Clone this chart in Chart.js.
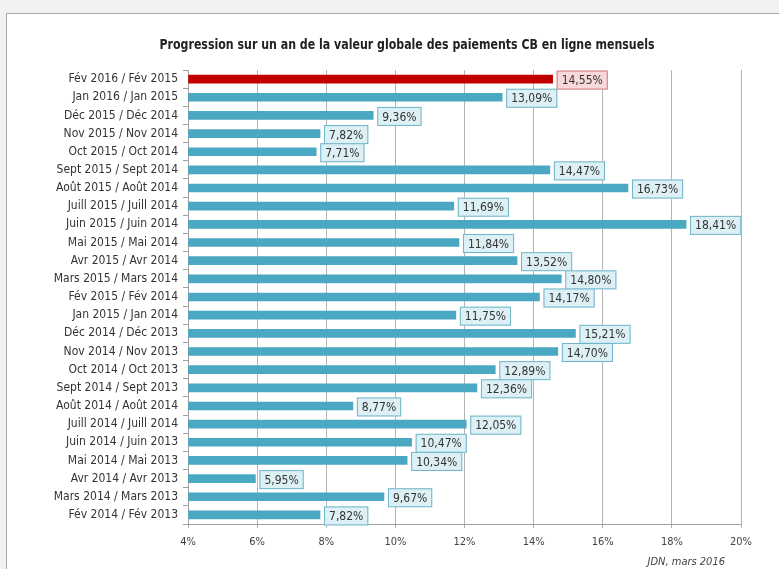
<!DOCTYPE html>
<html>
<head>
<meta charset="utf-8">
<script src="https://cdn.jsdelivr.net/npm/chart.js@4.4.1/dist/chart.umd.min.js"></script>
<style>
  html, body { margin: 0; padding: 0; background: #f2f2f2; }
  #wrap { position: relative; width: 779px; height: 569px; overflow: hidden; }
  #panel { position: absolute; left: 6px; top: 13px; width: 800px; height: 600px; background: #fff; border: 1px solid #a8a8a8; }
  #chart { position: absolute; left: 0; top: 0; }
</style>
</head>
<body>
<div id="wrap">
  <div id="panel"></div>
  <canvas id="chart" width="779" height="569"></canvas>
</div>
<script>
const periods = [
  'Fév 2016 / Fév 2015', 'Jan 2016 / Jan 2015', 'Déc 2015 / Déc 2014', 'Nov 2015 / Nov 2014',
  'Oct 2015 / Oct 2014', 'Sept 2015 / Sept 2014', 'Août 2015 / Août 2014', 'Juill 2015 / Juill 2014',
  'Juin 2015 / Juin 2014', 'Mai 2015 / Mai 2014', 'Avr 2015 / Avr 2014', 'Mars 2015 / Mars 2014',
  'Fév 2015 / Fév 2014', 'Jan 2015 / Jan 2014', 'Déc 2014 / Déc 2013', 'Nov 2014 / Nov 2013',
  'Oct 2014 / Oct 2013', 'Sept 2014 / Sept 2013', 'Août 2014 / Août 2014', 'Juill 2014 / Juill 2014',
  'Juin 2014 / Juin 2013', 'Mai 2014 / Mai 2013', 'Avr 2014 / Avr 2013', 'Mars 2014 / Mars 2013',
  'Fév 2014 / Fév 2013'
];
const growth = [
  14.55, 13.09, 9.36, 7.82, 7.71, 14.47, 16.73, 11.69, 18.41, 11.84, 13.52, 14.80,
  14.17, 11.75, 15.21, 14.70, 12.89, 12.36, 8.77, 12.05, 10.47, 10.34, 5.95, 9.67, 7.82
];
const xTicks = [4, 6, 8, 10, 12, 14, 16, 18, 20];
const highlighted = [0];
const titleText = 'Progression sur un an de la valeur globale des paiements CB en ligne mensuels';
const sourceText = 'JDN, mars 2016';

const FONT = '"Liberation Sans Narrow", "DejaVu Sans Condensed", "Liberation Sans", sans-serif';
const BLUE = '#4aa8c2';
const RED = '#c00000';

const barColors = growth.map((v, i) => highlighted.includes(i) ? RED : BLUE);

// boxed value labels at the end of each bar
const valueBoxes = {
  id: 'valueBoxes',
  afterDatasetsDraw(chart) {
    const ctx = chart.ctx;
    const meta = chart.getDatasetMeta(0);
    ctx.save();
    ctx.font = '12px ' + FONT;
    ctx.textBaseline = 'middle';
    meta.data.forEach((bar, i) => {
      const txt = growth[i].toFixed(2).replace('.', ',') + '%';
      const w = ctx.measureText(txt).width + 10;
      const h = 19;
      const x = bar.x + 4;
      const y = bar.y - h / 2 + 1;
      const hl = highlighted.includes(i);
      ctx.fillStyle = hl ? '#f8d8d8' : '#ddf0f6';
      ctx.strokeStyle = hl ? '#d27a7a' : '#6fb4c8';
      ctx.lineWidth = 1;
      ctx.fillRect(x, y, w, h);
      ctx.strokeRect(x + 0.5, y + 0.5, w - 1, h - 1);
      ctx.fillStyle = '#333';
      ctx.textAlign = 'left';
      ctx.fillText(txt, x + 5, y + h / 2 + 1);
    });
    ctx.restore();
  }
};

// title (narrow, like the original) and source note
const captions = {
  id: 'captions',
  afterDraw(chart) {
    const ctx = chart.ctx;
    ctx.save();
    ctx.font = 'bold 14px ' + FONT;
    ctx.fillStyle = '#222';
    ctx.textAlign = 'center';
    ctx.textBaseline = 'middle';
    const tw = ctx.measureText(titleText).width;
    const k = Math.min(1, 495 / tw);
    ctx.translate(407, 45);
    ctx.scale(k, 1);
    ctx.fillText(titleText, 0, 0);
    ctx.restore();

    ctx.save();
    ctx.font = 'italic 11px ' + FONT;
    ctx.fillStyle = '#444';
    ctx.textAlign = 'right';
    ctx.textBaseline = 'middle';
    ctx.fillText(sourceText, 725, 562);
    ctx.restore();
  }
};

new Chart(document.getElementById('chart'), {
  type: 'bar',
  data: {
    labels: periods,
    datasets: [{
      data: growth,
      backgroundColor: barColors,
      barThickness: 8,
      base: 4
    }]
  },
  options: {
    indexAxis: 'y',
    responsive: false,
    animation: false,
    layout: { padding: { left: 0, right: 38, top: 70, bottom: 0 } },
    plugins: {
      legend: { display: false },
      tooltip: { enabled: false },
      title: { display: false }
    },
    scales: {
      x: {
        min: 4,
        max: 20,
        afterBuildTicks(scale) { scale.ticks = xTicks.map(v => ({ value: v })); },
        afterFit(scale) { scale.height = 45; },
        grid: { color: '#b4b4b4', tickLength: 4, drawTicks: true },
        border: { display: true, color: '#a0a0a0' },
        ticks: {
          padding: 8,
          color: '#444',
          font: { family: FONT, size: 11 },
          callback: v => v + '%'
        }
      },
      y: {
        afterFit(scale) { scale.width = 188; },
        grid: { drawOnChartArea: false, drawTicks: true, tickLength: 5, color: '#a0a0a0' },
        border: { display: true, color: '#a0a0a0' },
        ticks: {
          padding: 5,
          color: '#333',
          autoSkip: false,
          font: { family: FONT, size: 12 }
        }
      }
    }
  },
  plugins: [valueBoxes, captions]
});
</script>
</body>
</html>
